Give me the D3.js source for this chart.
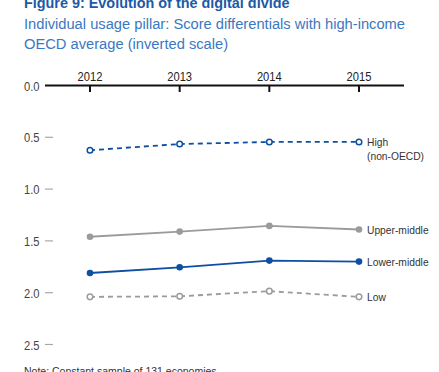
<!DOCTYPE html>
<html>
<head>
<meta charset="utf-8">
<script src="https://cdn.jsdelivr.net/npm/d3@7"></script>
<style>
  body { margin: 0; background: #fff; }
  svg { display: block; }
</style>
</head>
<body>
<div id="chart"></div>
<script>
const years = [2012, 2013, 2014, 2015];
const yTicks = [0, 0.5, 1.0, 1.5, 2.0, 2.5];
const highNonOECD = [0.625, 0.565, 0.545, 0.545];
const upperMiddle = [1.46, 1.41, 1.355, 1.39];
const lowerMiddle = [1.81, 1.755, 1.69, 1.70];
const low = [2.04, 2.035, 1.985, 2.04];

const BLUE = '#0c4fa3', GRAY = '#9b9b9b';
const FONT = 'Liberation Sans, Arial, sans-serif';
const series = [
  { name: ['High', '(non-OECD)'], values: highNonOECD, color: BLUE, dashed: true, open: true },
  { name: ['Upper-middle'], values: upperMiddle, color: GRAY, dashed: false, open: false },
  { name: ['Lower-middle'], values: lowerMiddle, color: BLUE, dashed: false, open: false },
  { name: ['Low'], values: low, color: GRAY, dashed: true, open: true }
];

const width = 439, height = 372;
const svg = d3.select('#chart').append('svg')
  .attr('width', width).attr('height', height);

// squeeze text a bit, source font is a narrow grotesque
function squeeze(sel, k) {
  sel.each(function() {
    const len = this.getComputedTextLength();
    d3.select(this).attr('textLength', len * k).attr('lengthAdjust', 'spacingAndGlyphs');
  });
}

// titles
svg.append('text').attr('x', 24).attr('y', 8)
  .attr('font-family', FONT)
  .attr('font-weight', 'bold').attr('font-size', 14.4)
  .attr('fill', '#1b5aa6')
  .text('Figure 9: Evolution of the digital divide');
const sub = ['Individual usage pillar: Score differentials with high-income', 'OECD average (inverted scale)'];
svg.selectAll('.sub').data(sub).enter().append('text')
  .attr('class', 'sub')
  .attr('x', 24).attr('y', (d, i) => 29 + i * 19.5)
  .attr('font-family', FONT)
  .attr('font-size', 14.7).attr('fill', '#3a78c2')
  .text(d => d);

const x = d3.scaleLinear().domain([2012, 2015]).range([90, 359]);
const y = d3.scaleLinear().domain([0, 2.5]).range([85.5, 344.5]);

// y ticks (grey dashes on left)
const yAxis = svg.append('g');
yAxis.selectAll('line').data(yTicks.slice(1)).enter().append('line')
  .attr('x1', 45).attr('x2', 53)
  .attr('y1', d => y(d)).attr('y2', d => y(d))
  .attr('stroke', '#a8a8a8').attr('stroke-width', 1.2);
yAxis.selectAll('text').data(yTicks).enter().append('text')
  .attr('x', 39.5).attr('y', d => y(d) + 5)
  .attr('text-anchor', 'end')
  .attr('font-family', FONT)
  .attr('font-size', 12).attr('fill', '#444')
  .text(d => d3.format('.1f')(d))
  .call(squeeze, 0.93);

// top x axis
svg.append('line').attr('x1', 45).attr('x2', 404)
  .attr('y1', y(0)).attr('y2', y(0))
  .attr('stroke', '#111').attr('stroke-width', 2);
const xAxis = svg.append('g');
xAxis.selectAll('line').data(years).enter().append('line')
  .attr('x1', d => x(d)).attr('x2', d => x(d))
  .attr('y1', y(0)).attr('y2', y(0) + 6.5)
  .attr('stroke', '#111').attr('stroke-width', 2);
xAxis.selectAll('text').data(years).enter().append('text')
  .attr('x', d => x(d)).attr('y', 81.3)
  .attr('text-anchor', 'middle')
  .attr('font-family', FONT)
  .attr('font-size', 12).attr('fill', '#222')
  .text(d => d)
  .call(squeeze, 0.93);

const line = d3.line().x((d, i) => x(years[i])).y(d => y(d));

series.forEach(s => {
  const g = svg.append('g');
  g.append('path').datum(s.values)
    .attr('d', line).attr('fill', 'none')
    .attr('stroke', s.color).attr('stroke-width', 1.8)
    .attr('stroke-dasharray', s.dashed ? '5,4' : null);
  g.selectAll('circle').data(s.values).enter().append('circle')
    .attr('cx', (d, i) => x(years[i])).attr('cy', d => y(d))
    .attr('r', s.open ? 2.8 : 3.3)
    .attr('fill', s.open ? '#fff' : s.color)
    .attr('stroke', s.color).attr('stroke-width', s.open ? 1.5 : 0);
  const last = s.values[s.values.length - 1];
  g.selectAll('text').data(s.name).enter().append('text')
    .attr('x', 367).attr('y', (d, i) => y(last) + 4.5 + i * 14)
    .attr('font-family', FONT)
    .attr('font-size', 11.8).attr('fill', '#333')
    .text(d => d)
    .call(squeeze, 0.87);
});

svg.append('text').attr('x', 24).attr('y', 375)
  .attr('font-family', FONT)
  .attr('font-size', 10.5).attr('fill', '#333')
  .text('Note: Constant sample of 131 economies.');
</script>
</body>
</html>
